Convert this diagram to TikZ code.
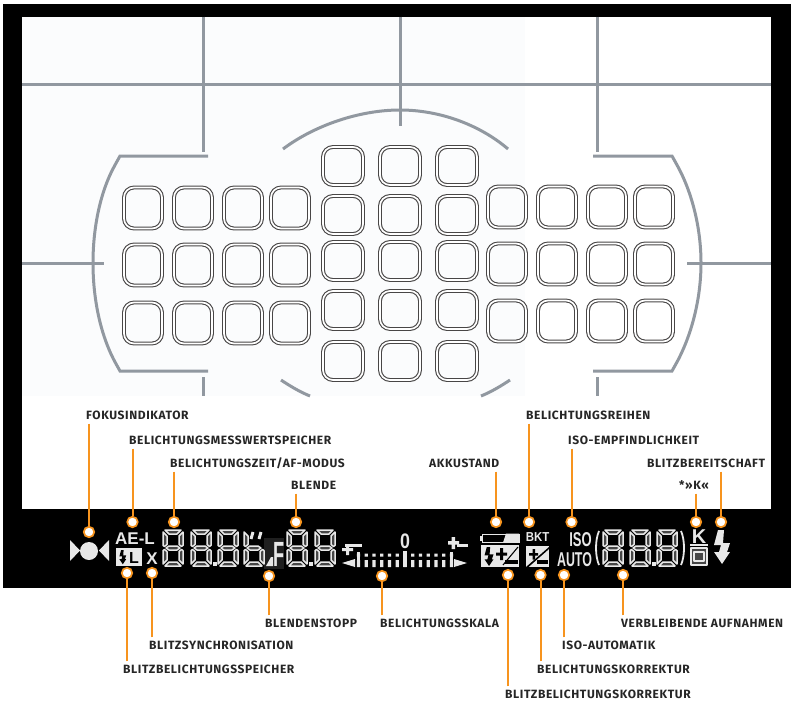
\documentclass[tikz,border=0pt]{standalone}
\usepackage{fontspec}
\setmainfont{Fira Sans}[LetterSpace=5]
\newfontfamily\lcdfont{Liberation Sans}
\usetikzlibrary{positioning}
\definecolor{sucherweiss}{RGB}{251,252,253}
\definecolor{rastergrau}{RGB}{145,152,160}
\definecolor{feldgrau}{RGB}{72,70,70}
\definecolor{lcdhell}{RGB}{232,232,232}
\definecolor{lcdinnen}{RGB}{70,70,70}
\definecolor{leiterorange}{RGB}{247,148,30}
\tikzset{
  raster/.style={draw=rastergrau, line width=3pt},
  messfeld/.style={draw=feldgrau, line width=1.1pt, double=white, double distance=1.7pt, rounded corners=10pt},
  seg/.style={draw=lcdhell, fill=lcdinnen, line width=1.5pt, line join=round},
  lcd/.style={fill=lcdhell},
  lcdtext/.style={text=lcdhell, inner sep=0pt, font=\lcdfont\bfseries\fontsize{#1}{#1}\selectfont},
  beschriftung/.style={anchor=west, inner xsep=0pt, inner ysep=4pt, text height=7.8pt, text depth=0pt,
    font=\bfseries\fontsize{12}{12}\selectfont, text=black!85},
  punkt/.style={circle, draw=leiterorange, fill=white, line width=1.7pt, minimum size=10.5pt, inner sep=0pt},
  leiter/.style={draw=leiterorange, line width=2pt},
  untenseg/.pic={
    \draw[seg] (3,18) -- (6,16) -- (14,16) -- (17,18) -- (14,20) -- (6,20) -- cycle;
    \draw[seg] (0,20.5) -- (1.5,19.5) -- (4,21.5) -- (4,30) -- (0,34) -- cycle;
    \draw[seg] (20,20.5) -- (18.5,19.5) -- (16,21.5) -- (16,30) -- (20,34) -- cycle;
    \draw[seg] (2,36) -- (18,36) -- (14,32) -- (6,32) -- cycle;
  },
  ziffer/.pic={
    \pic {untenseg};
    \draw[seg] (2,0) -- (18,0) -- (14,4) -- (6,4) -- cycle;
    \draw[seg] (0,2) -- (4,6) -- (4,14.5) -- (1.5,16.5) -- (0,15.5) -- cycle;
    \draw[seg] (20,2) -- (16,6) -- (16,14.5) -- (18.5,16.5) -- (20,15.5) -- cycle;
  },
  blitz/.pic={
    \fill[pic actions] (5,0) -- (11,0) -- (10,13) -- (17,13) -- (14,22) -- (17,22) -- (9,34) -- (1,22)
      -- (6,22) -- (8,15) -- (1,15) -- cycle;
  },
}
\begin{document}
\begin{tikzpicture}[x=1pt, y=-1pt]
\useasboundingbox (0,0) rectangle (791,701);
\fill (3,4) rectangle (791,588);
\fill[white] (22,17) rectangle (771,509);
\fill[sucherweiss] (22,17) rectangle (525,396);

\draw[raster] (22,84.5) -- (771,84.5);
\draw[raster] (203,17) -- (203,152);
\draw[raster] (203,377) -- (203,396);
\draw[raster] (400,17) -- (400,126);
\draw[raster] (597,17) -- (597,152);
\draw[raster] (597,377) -- (597,396);
\draw[raster] (22,263) -- (104,263);
\draw[raster] (687,263) -- (771,263);

\draw[raster] (208,156) -- (120,156) -- (115,165) .. controls (100,192) and (93,228) .. (93,263)
  .. controls (93,298) and (100,334) .. (115,362) -- (120,371) -- (208,371);
\draw[raster] (593,156) -- (672,156) -- (677,165) .. controls (692,192) and (701,228) .. (701,263)
  .. controls (701,298) and (692,334) .. (677,362) -- (672,371) -- (593,371);
\draw[raster] (283,149) .. controls (315,125) and (360,110) .. (400,110) .. controls (440,110) and (480,125) .. (508,149);
\draw[raster] (281,380) .. controls (290,386) and (300,392) .. (310,396);
\draw[raster] (510,380) .. controls (501,386) and (491,392) .. (481,396);

\foreach \y in {208,265,323}
  \foreach \x in {143,193,243,290}
    \draw[messfeld] ({\x-19},{\y-20.5}) rectangle ({\x+19},{\y+20.5});
\foreach \y in {207,264,321}
  \foreach \x in {507,557,607,654}
    \draw[messfeld] ({\x-19},{\y-20.5}) rectangle ({\x+19},{\y+20.5});
\foreach \y in {166,215,261,310,361}
  \foreach \x in {343,400,457}
    \draw[messfeld] ({\x-20},{\y-19}) rectangle ({\x+20},{\y+19});

\fill[lcd] (70,540) -- (80,550.5) -- (70,561) -- cycle;
\fill[lcd] (89,551) circle (9);
\fill[lcd] (109,540) -- (99,550.5) -- (109,561) -- cycle;

\node[lcdtext=17] (ael) at (135,539) {AE-L};
\fill[lcd] (116,548) rectangle (142,566);
\pic[fill=black, scale=.42] at (119,550) {blitz};
\node[lcdtext=16, text=black] (sl) at (134,557.5) {L};
\node[lcdtext=17] (sx) at (152,559) {X};

\fill[black!88] (264,538) rectangle (284,569);
\pic at (163,530) {ziffer};
\pic at (191,530) {ziffer};
\fill[lcd] (213,562) rectangle (217,566);
\pic at (218,530) {ziffer};
\pic at (244,530) {untenseg};
\draw[seg] (244,532) -- (248,536) -- (248,544.5) -- (245.5,546.5) -- (244,545.5) -- cycle;
\draw[lcdhell, line width=3pt] (253,532) -- (251,539) (261,532) -- (259,539);
\fill[lcd] (271,557) -- (273,557) -- (273,566) -- (266,566) -- cycle;
\node[lcdtext=35, xscale=.52, anchor=base] (sf) at (279,566) {F};
\pic at (287,530) {ziffer};
\fill[lcd] (309,562) rectangle (313,566);
\pic at (315,530) {ziffer};

\fill[lcd] (345,544) rectangle (362,547);
\fill[lcd] (342,548) rectangle (353,551) (346,544) rectangle (349,555);
\fill[lcd] (355,559) -- (342,563) -- (355,567) -- cycle;
\node[lcdtext=21, xscale=.85] (snull) at (405,541) {0};
\foreach \k in {-6,...,6}
  \fill[lcd] ({405+7.75*\k-1.6},560) rectangle ({405+7.75*\k+1.6},567)
    ({405+7.75*\k-1.6},553.5) rectangle ({405+7.75*\k+1.6},556.5);
\foreach \k in {-6,6}
  \fill[lcd] ({405+7.75*\k-1.6},552) rectangle ({405+7.75*\k+1.6},567);
\fill[lcd] (403,551) rectangle (407,567);
\fill[lcd] (448,541) rectangle (459,544.5) (451.5,537) rectangle (455,549);
\fill[lcd] (457,543.5) rectangle (468,547);
\fill[lcd] (454,559) -- (467,563) -- (454,567) -- cycle;

\draw[lcdhell, line width=1pt] (482,534) rectangle (519,542.5);
\fill[lcd] (503,542.5) -- (506,533.5) -- (519,533.5) -- (519,542.5) -- cycle;
\fill[lcd] (480,535.5) rectangle (482,540.5);
\fill[lcd] (481,544.5) rectangle (519,567);
\pic[fill=black, scale=.56] at (484,547) {blitz};
\fill[black] (496,552.5) rectangle (507,555.5) (500,548) rectangle (503,560);
\fill[black] (505,560) rectangle (518,563.5);
\draw[black, line width=1.1pt] (503,565) -- (518,547);

\node[lcdtext=13, xscale=.88] (sbkt) at (537.5,537.5) {BKT};
\fill[lcd] (526,546) rectangle (549,567);
\fill[black] (529,553) rectangle (538,555.5) (532.5,549) rectangle (535,559.5);
\fill[black] (537,560) rectangle (548,563.5);
\fill[black] (526,567) -- (549,547) -- (549,549) -- (528.5,567) -- cycle;
\node[lcdtext=20, xscale=.65] (siso) at (580.5,540) {ISO};
\node[lcdtext=20, xscale=.62] (sauto) at (574.5,560) {AUTO};

\draw[lcdhell, line width=1.8pt] (599,531) .. controls (595,540) and (595,556) .. (599,565);
\pic at (603,530) {ziffer};
\pic at (630,530) {ziffer};
\fill[lcd] (651.5,562) rectangle (655.5,566);
\pic at (657,530) {ziffer};
\draw[lcdhell, line width=1.8pt] (681,531) .. controls (685,540) and (685,556) .. (681,565);
\node[lcdtext=20, anchor=base] (sk) at (699,543.5) {K};
\fill[lcd] (690,544) rectangle (708,546);
\draw[seg] (691,548) rectangle (707,565);
\draw[seg] (694,552) rectangle (704,561);
\pic[fill=lcdhell] at (713,530) {blitz};

\foreach \n/\lx/\ly/\px/\py/\txt in {
  fokus/86/415.5/89/532/FOKUSINDIKATOR,
  messwert/129/440.5/132.5/522/BELICHTUNGSMESSWERTSPEICHER,
  zeit/170/463.5/174/522/{BELICHTUNGSZEIT/AF-MODUS},
  blende/291/485.5/296/522/BLENDE,
  akku/429/463.5/496/522/AKKUSTAND,
  reihen/526/415.5/529/522/BELICHTUNGSREIHEN,
  empf/568/440.5/571.5/522/ISO-EMPFINDLICHKEIT,
  bereit/647/463.5/721/522/BLITZBEREITSCHAFT,
  stern/679/485.5/696/522/{*»K«}} {
  \node[beschriftung] (l\n) at (\lx,\ly) {\txt};
  \node[punkt] (p\n) at (\px,\py) {};
  \draw[leiter] (p\n |- l\n.south) -- (p\n);
}
\foreach \n/\lx/\ly/\px/\py/\txt in {
  speicher/123/669.5/127/573/BLITZBELICHTUNGSSPEICHER,
  sync/149/645.5/152/573/BLITZSYNCHRONISATION,
  stopp/265/623.5/269/576/BLENDENSTOPP,
  skala/380/623.5/382/576/BELICHTUNGSSKALA,
  blitzkorr/505/694.5/508/575/BLITZBELICHTUNGSKORREKTUR,
  korr/537/669.5/540.5/575/BELICHTUNGSKORREKTUR,
  auto/562/645.5/564/575/ISO-AUTOMATIK,
  verbl/621/623.5/623/575/VERBLEIBENDE AUFNAHMEN} {
  \node[beschriftung] (l\n) at (\lx,\ly) {\txt};
  \node[punkt] (p\n) at (\px,\py) {};
  \draw[leiter] (p\n |- l\n.north) -- (p\n);
}
\end{tikzpicture}
\end{document}
